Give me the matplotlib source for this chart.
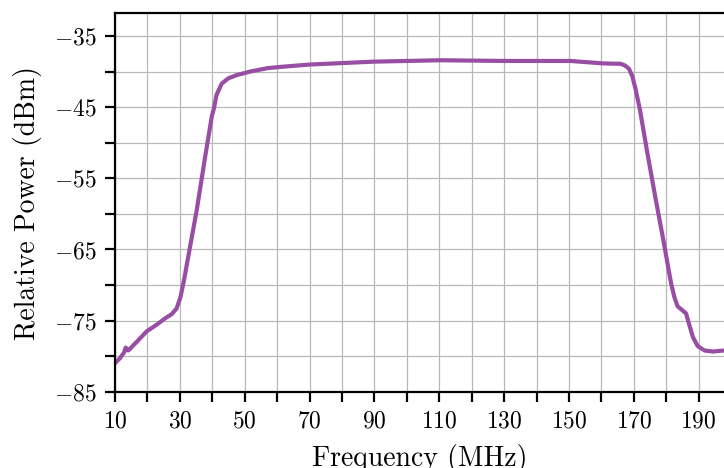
import matplotlib
matplotlib.use("Agg")
import matplotlib.pyplot as plt
from matplotlib.ticker import MultipleLocator

plt.rcParams['font.family'] = 'serif'
plt.rcParams['font.serif'] = ['cmr10']
plt.rcParams['mathtext.fontset'] = 'cm'
plt.rcParams['axes.formatter.use_mathtext'] = True

# values
freq = [10, 11.5, 12.8, 13.3, 14.1, 16.7, 19.8, 22.8, 25.4, 27.5, 29.0, 30.2,
        31.3, 32.6, 35.2, 37.8, 39.85, 40.5, 41.3, 42.9, 44.9, 47.5, 51.6,
        57.2, 62, 70.2, 89.7, 110.3, 129.8, 150.4, 160.7, 165.9, 167.3, 168.5,
        169.5, 170.4, 171.9, 174, 176.6, 179.1, 181.5, 182.5, 183.5, 185.1,
        186.1, 187.1, 188.2, 189.7, 191.8, 194.3, 197.9]
power = [-81.0, -80.3, -79.5, -78.8, -79.2, -78.0, -76.5, -75.6, -74.7, -74.1,
         -73.3, -71.7, -69.3, -66.0, -59.5, -52.0, -46.3, -45.2, -43.3, -41.7,
         -40.95, -40.5, -40.0, -39.5, -39.3, -39.0, -38.6, -38.4, -38.5,
         -38.5, -38.85, -38.9, -39.15, -39.6, -40.6, -42.2, -45.4, -51.0,
         -57.6, -63.7, -69.8, -71.7, -73.0, -73.6, -74.0, -75.6, -77.3, -78.6,
         -79.2, -79.35, -79.2]

fig = plt.figure(figsize=(7.24, 4.68), dpi=100)
ax = fig.add_axes([0.1588, 0.163, 0.8412, 0.8086])

ax.plot(freq, power, color='#984ea3', linewidth=3.0,
        solid_capstyle='round', solid_joinstyle='round')

ax.set_xlim(10, 197.8)
ax.set_ylim(-85, -31.8)
ax.xaxis.set_major_locator(MultipleLocator(20, offset=10))
ax.xaxis.set_minor_locator(MultipleLocator(10))
ax.yaxis.set_major_locator(MultipleLocator(10, offset=5))
ax.yaxis.set_minor_locator(MultipleLocator(5))

ax.grid(True, which='both', color='#b8b8b8', linewidth=0.9)
ax.set_axisbelow(True)
ax.spines['right'].set_visible(False)
for s in ['left', 'top', 'bottom']:
    ax.spines[s].set_linewidth(1.6)
ax.tick_params(which='both', direction='out', length=7.5, width=1.6,
               labelsize=17, pad=6)

ax.set_xlabel("Frequency (MHz)", fontsize=20, labelpad=8)
ax.set_ylabel("Relative Power (dBm)", fontsize=20, labelpad=8)

fig.savefig("out.png", dpi=100)
